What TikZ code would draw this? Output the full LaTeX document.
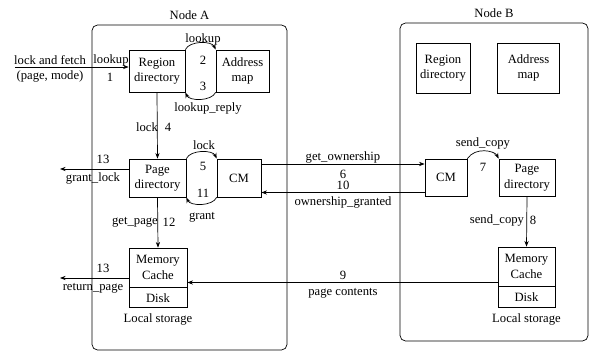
\documentclass[tikz,border=0pt]{standalone}
\usepackage{fontspec}
\setmainfont{Liberation Serif}
\usetikzlibrary{positioning, arrows.meta, calc}

\begin{document}
\begin{tikzpicture}[
    x=0.025cm, y=-0.025cm,
    host/.style={draw, rounded corners=4pt, line width=0.5pt},
    box/.style={draw, align=center, inner sep=0pt, font=\small, line width=0.5pt},
    conn/.style={-{Stealth[length=4pt]}, line width=0.5pt},
    label/.style={font=\small, inner sep=1pt},
]
  \useasboundingbox (0,0) rectangle (591,352);

  % Hosts
  \node[host, minimum width=4.875cm, minimum height=8.125cm] (hostA) at (189.5,187.5) {};
  \node[label, above=2pt] (nameA) at (hostA.north) {Node A};
  \node[host, minimum width=4.7cm, minimum height=7.95cm] (hostB) at (494,182) {};
  \node[label, above=2pt] (nameB) at (hostB.north) {Node B};

  % Node A boxes
  \node[box, minimum width=1.4cm, minimum height=1.05cm] (rdA) at (157,71) {Region\\directory};
  \node[box, minimum width=1.325cm, minimum height=1.05cm] (amA) at (242.5,71) {Address\\map};
  \node[box, minimum width=1.425cm, minimum height=0.95cm] (pdA) at (157.5,178) {Page\\directory};
  \node[box, minimum width=1.1cm, minimum height=0.95cm] (cmA) at (239,178) {CM};
  \node[box, minimum width=1.45cm, minimum height=0.975cm] (memA) at (158,267.5) {Memory\\Cache};
  \node[box, minimum width=1.45cm, minimum height=0.5cm, below=0pt of memA] (diskA) {Disk};
  \node[label, below=3pt] (lsA) at (diskA.south) {Local storage};

  % Node B boxes
  \node[box, minimum width=1.35cm, minimum height=1.25cm] (rdB) at (443,68) {Region\\directory};
  \node[box, minimum width=1.55cm, minimum height=1.25cm] (amB) at (528.5,68) {Address\\map};
  \node[box, minimum width=1.05cm, minimum height=0.925cm] (cmB) at (446,177.5) {CM};
  \node[box, minimum width=1.4cm, minimum height=0.925cm] (pdB) at (527,177.5) {Page\\directory};
  \node[box, minimum width=1.425cm, minimum height=0.975cm] (memB) at (526.5,266.5) {Memory\\Cache};
  \node[box, minimum width=1.425cm, minimum height=0.525cm, below=0pt of memB] (diskB) {Disk};
  \node[label, below=3pt] (lsB) at (diskB.south) {Local storage};

  % Request from outside
  \coordinate (lfin) at (15,67);
  \draw[conn] (lfin) -- (lfin -| rdA.west);
  \node[label] (lfA) at (50,60) {lock and fetch};
  \node[label] (pmA) at (50,76) {(page, mode)};
  \node[label] (luA) at (111,60) {lookup};
  \node[label] (n1) at (110,77) {1};

  % Region directory <-> Address map
  \draw[conn] (rdA.north east) .. controls +(4,-9) and +(-4,-9) .. (amA.north west);
  \draw[conn] (amA.south west) .. controls +(-4,9) and +(4,9) .. (rdA.south east);
  \node[label] (luB) at (203,39) {lookup};
  \node[label] (n2) at (203,60) {2};
  \node[label] (n3) at (203,86) {3};
  \node[label] (lr) at (208,108) {lookup\_reply};

  % Region directory -> Page directory
  \draw[conn] (rdA.south) -- (pdA.north);
  \node[label] (lk4) at (147,127) {lock};
  \node[label] (n4) at (168,127) {4};

  % Page directory <-> CM
  \draw[conn] (pdA.north east) .. controls +(4,-9) and +(-4,-9) .. (cmA.north west);
  \draw[conn] (cmA.south west) .. controls +(-4,9) and +(4,9) .. (pdA.south east);
  \node[label] (lk5) at (204,145) {lock};
  \node[label] (n5) at (203,166) {5};
  \node[label] (n11) at (203,193) {11};
  \node[label] (gr) at (202,217) {grant};

  % Replies to outside
  \coordinate (glout) at (60,169);
  \draw[conn] (pdA.west |- glout) -- (glout);
  \node[label] (n13a) at (103,159) {13};
  \node[label] (gl) at (93,178) {grant\_lock};
  \coordinate (rpout) at (60,278);
  \draw[conn] (memA.west |- rpout) -- (rpout);
  \node[label] (n13b) at (103,268) {13};
  \node[label] (rp) at (93,288) {return\_page};

  % Page directory -> Memory cache
  \draw[conn] (pdA.south) -- (memA.north);
  \node[label] (gp) at (135,222) {get\_page};
  \node[label] (n12) at (169,222) {12};

  % Between the hosts
  \coordinate (go) at ($(cmA.east)+(0,-14)$);
  \draw[conn] (go) -- (go -| cmB.west);
  \node[label] (goL) at (343,157) {get\_ownership};
  \node[label] (n6) at (343,174) {6};
  \coordinate (og) at ($(cmB.west)+(0,15)$);
  \draw[conn] (og) -- (og -| cmA.east);
  \node[label] (n10) at (343,185) {10};
  \node[label] (ogL) at (343,202) {ownership\_granted};
  \coordinate (pc) at ($(memB.west)+(0,16)$);
  \draw[conn] (pc) -- (pc -| memA.east);
  \node[label] (n9) at (343,275) {9};
  \node[label] (pcL) at (343,293) {page contents};

  % Node B
  \draw[conn] (cmB.north east) .. controls +(8,-12) and +(-4,-8) .. (pdB.north west);
  \node[label] (sc7) at (483,143) {send\_copy};
  \node[label] (n7) at (483,167) {7};
  \draw[conn] (pdB.south) -- (memB.north);
  \node[label] (sc8) at (497,220) {send\_copy};
  \node[label] (n8) at (533,220) {8};
\end{tikzpicture}
\end{document}
